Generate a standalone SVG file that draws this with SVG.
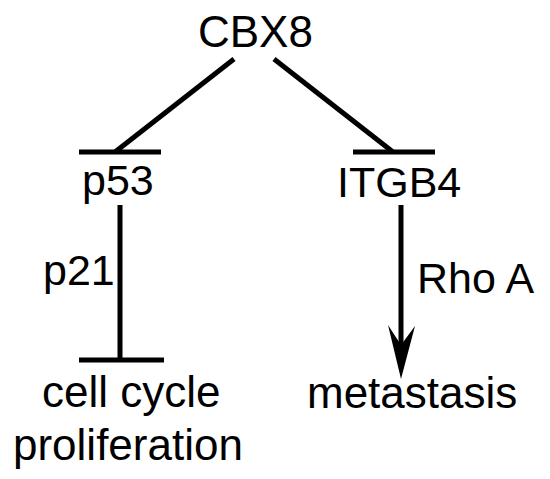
<svg xmlns="http://www.w3.org/2000/svg" width="550" height="479" viewBox="0 0 550 479">
<style>
text{font-family:"Liberation Sans",Arial,sans-serif;fill:#000}
.l{stroke:#000;stroke-width:5;fill:none}
.a{font-size:44px}
.b{font-size:43px}
</style>
<rect width="550" height="479" fill="#fff"/>
<g id="connectors">
<line class="l" x1="234" y1="59" x2="115" y2="152"/>
<line class="l" x1="79" y1="152" x2="161" y2="152"/>
<line class="l" x1="274" y1="59" x2="393" y2="152"/>
<line class="l" x1="353" y1="152" x2="435" y2="152"/>
<line class="l" x1="120" y1="205" x2="120" y2="360"/>
<line class="l" x1="79" y1="360" x2="164" y2="360"/>
<line class="l" x1="401" y1="205" x2="401" y2="345"/>
<path d="M401,379 L415,326 L401,345 L388,325 Z" fill="#000"/>
</g>
<g id="cbx8"><text class="a" x="198" y="47">CBX8</text></g>
<g id="p53"><text class="b" x="82" y="195">p53</text></g>
<g id="itgb4"><text class="b" x="337" y="197">ITGB4</text></g>
<g id="p21"><text class="b" x="43" y="285">p21</text></g>
<g id="rhoa"><text class="b" x="417" y="293">Rho A</text></g>
<g id="cellcycle"><text class="a" x="42" y="407">cell cycle</text><text class="a" x="13" y="460">proliferation</text></g>
<g id="metastasis"><text class="a" x="307" y="408">metastasis</text></g>
</svg>
